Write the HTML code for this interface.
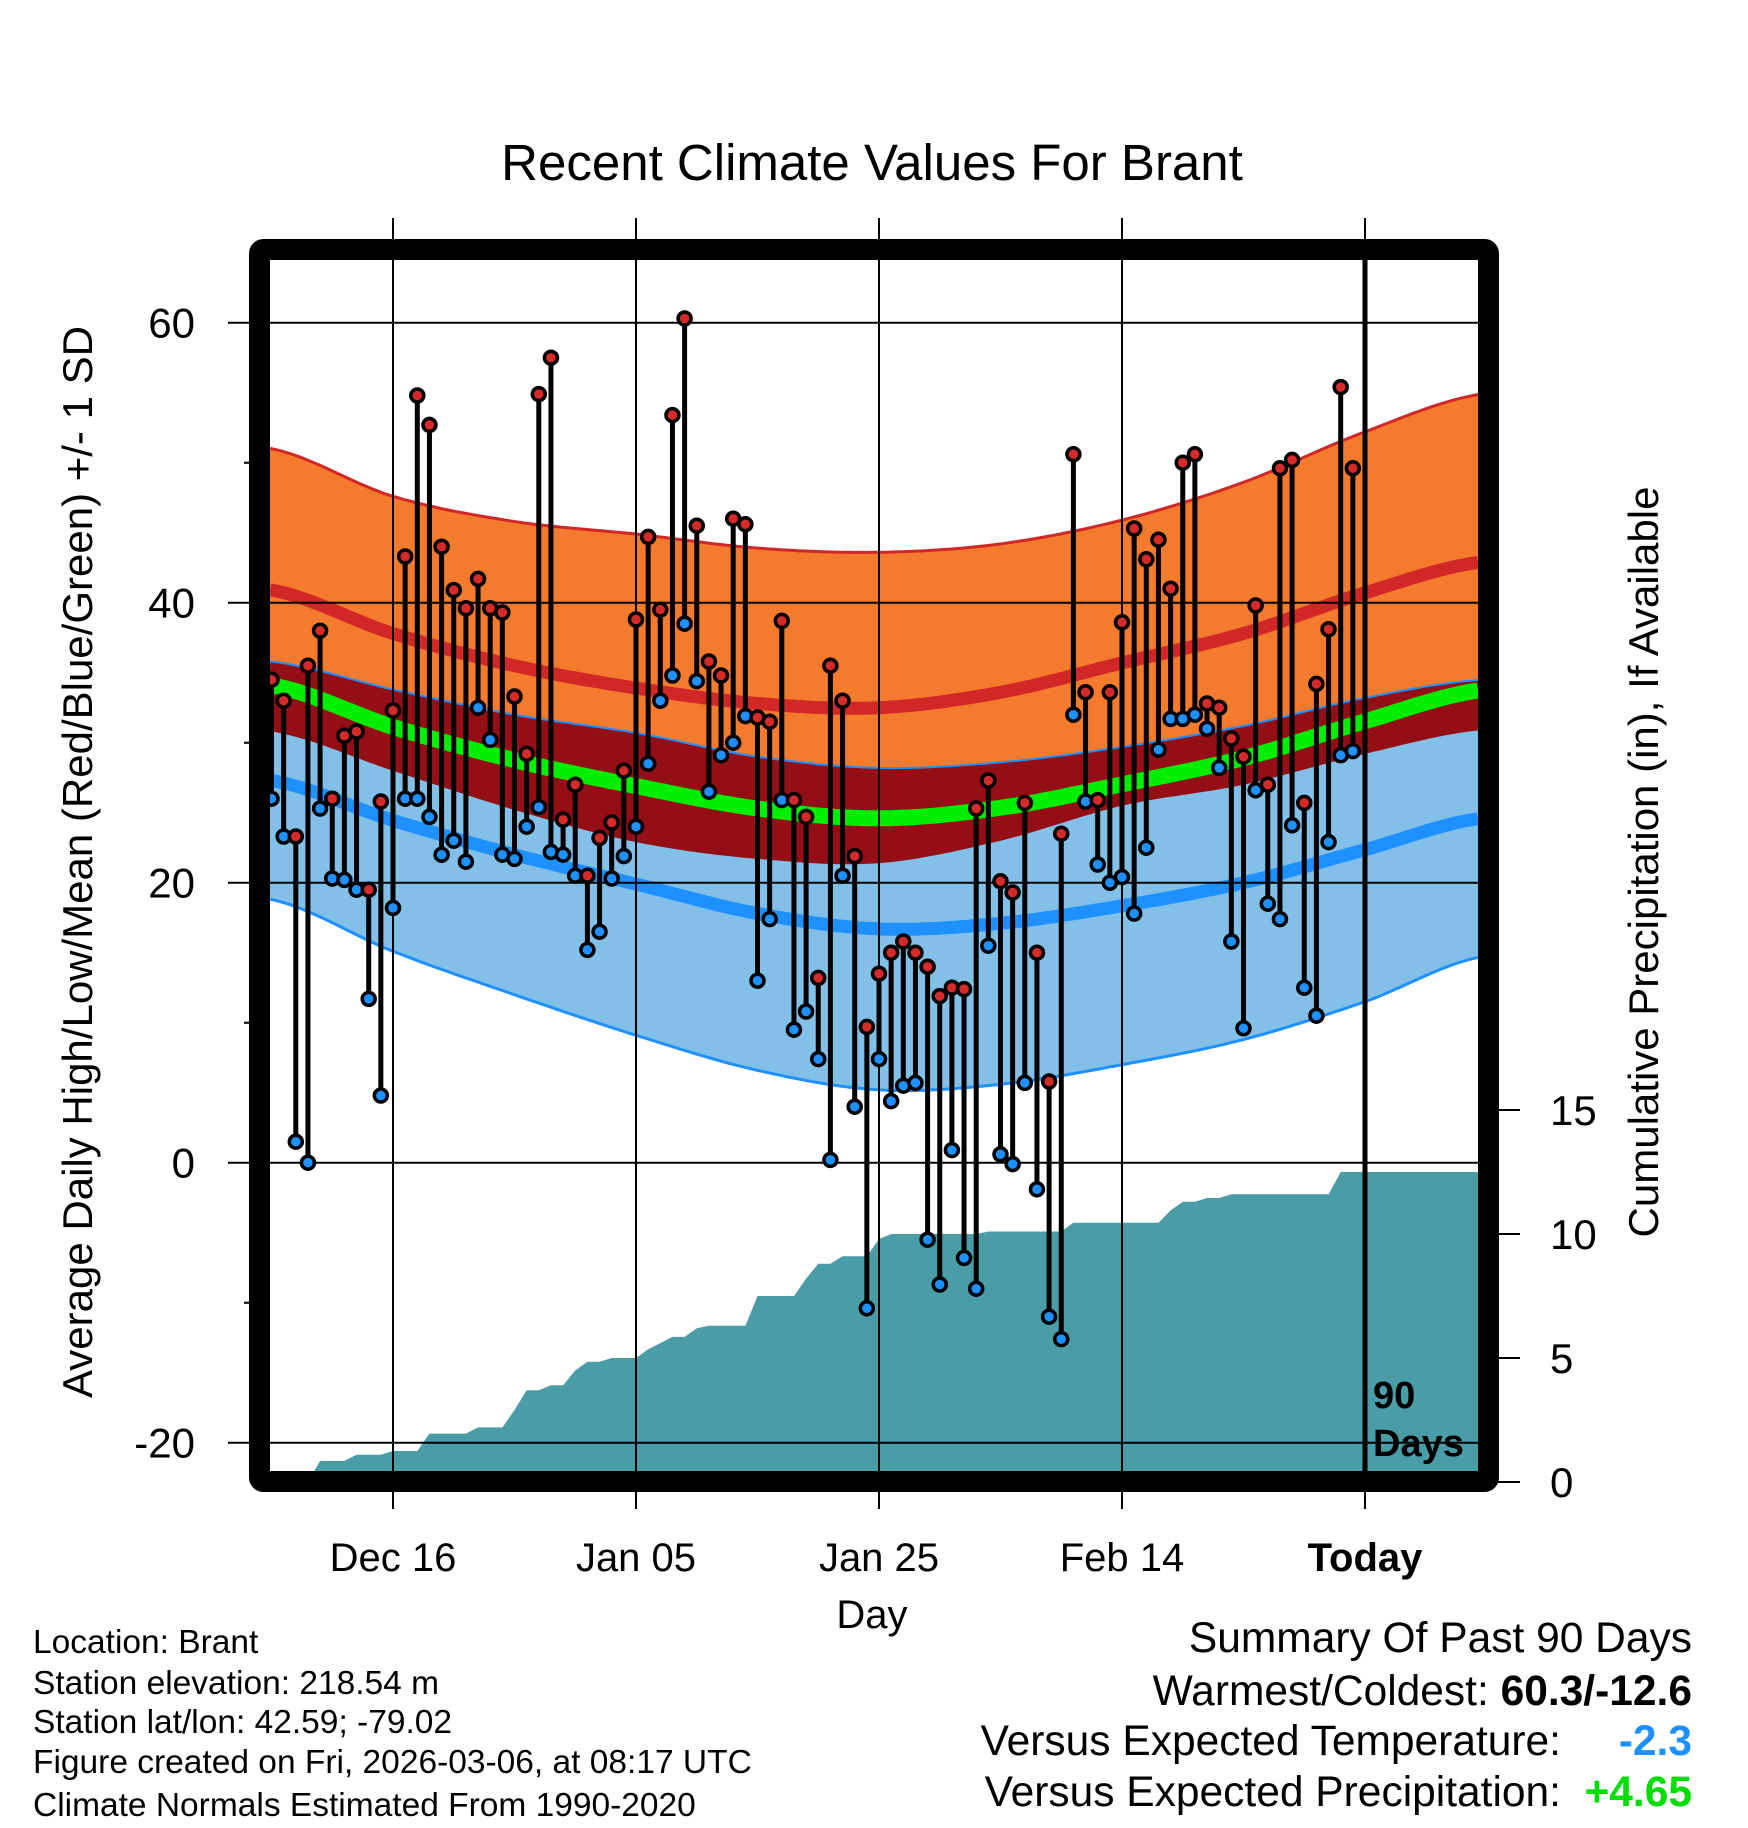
<!DOCTYPE html>
<html><head><meta charset="utf-8"><title>Recent Climate Values For Brant</title>
<style>html,body{margin:0;padding:0;background:#fff}svg{display:block;font-family:"Liberation Sans",Arial,sans-serif}</style>
</head><body>
<svg id="chart" xmlns="http://www.w3.org/2000/svg" width="1748" height="1828" viewBox="0 0 1748 1828">
<rect x="0" y="0" width="1748" height="1828" fill="#fff"/>
<g id="bands"></g>
<g id="precip"></g>
<g id="grid"></g>
<g id="stems"></g>
<g id="frame"></g>
<g id="labels"></g>
<text x="872" y="180" font-size="51" text-anchor="middle">Recent Climate Values For Brant</text>
<text transform="translate(92,862) rotate(-90)" font-size="42" text-anchor="middle">Average Daily High/Low/Mean (Red/Blue/Green) +/- 1 SD</text>
<text transform="translate(1658,862) rotate(-90)" font-size="42" text-anchor="middle">Cumulative Precipitation (in), If Available</text>
<text x="872" y="1628" font-size="40" text-anchor="middle">Day</text>
<text x="1373" y="1408" font-size="38" font-weight="bold">90</text>
<text x="1373" y="1456" font-size="38" font-weight="bold">Days</text>
<g font-size="33.5">
<text x="33" y="1653">Location: Brant</text>
<text x="33" y="1694">Station elevation: 218.54 m</text>
<text x="33" y="1733">Station lat/lon: 42.59; -79.02</text>
<text x="33" y="1773">Figure created on Fri, 2026-03-06, at 08:17 UTC</text>
<text x="33" y="1816">Climate Normals Estimated From 1990-2020</text>
</g>
<g font-size="42.5">
<text x="1692" y="1652" text-anchor="end">Summary Of Past 90 Days</text>
<text x="1692" y="1705" text-anchor="end">Warmest/Coldest: <tspan font-weight="bold">60.3/-12.6</tspan></text>
<text x="1561" y="1755" text-anchor="end">Versus Expected Temperature:</text>
<text x="1692" y="1755" text-anchor="end" font-weight="bold" fill="#1e90ff">-2.3</text>
<text x="1561" y="1806" text-anchor="end">Versus Expected Precipitation:</text>
<text x="1692" y="1806" text-anchor="end" font-weight="bold" fill="#00dd00">+4.65</text>
</g>
</svg>
<script>
// ---- data ----
const highs = [34.5,33,23.3,35.5,38,26,30.5,30.8,19.5,25.8,32.3,43.3,54.8,52.7,44,40.9,39.6,41.7,39.6,39.3,33.3,29.2,54.9,57.5,24.5,27,20.5,23.2,24.3,28,38.8,44.7,39.5,53.4,60.3,45.5,35.8,34.8,46,45.6,31.8,31.5,38.7,25.9,24.7,13.2,35.5,33,21.9,9.7,13.5,15,15.8,15,14,11.9,12.5,12.4,25.3,27.3,20.1,19.3,25.7,15,5.8,23.5,50.6,33.6,25.9,33.6,38.6,45.3,43.1,44.5,41,50,50.6,32.8,32.5,30.3,29,39.8,27,49.6,50.2,25.7,34.2,38.1,55.4,49.6];
const lows = [26,23.3,1.5,0,25.3,20.3,20.2,19.5,11.7,4.8,18.2,26,26,24.7,22,23,21.5,32.5,30.2,22,21.7,24,25.4,22.2,22,20.5,15.2,16.5,20.3,21.9,24,28.5,33,34.8,38.5,34.4,26.5,29.1,30,31.9,13,17.4,25.9,9.5,10.8,7.4,0.2,20.5,4,-10.4,7.4,4.4,5.5,5.7,-5.5,-8.7,0.9,-6.8,-9,15.5,0.6,-0.1,5.7,-1.9,-11,-12.6,32,25.8,21.3,20,20.4,17.8,22.5,29.5,31.7,31.7,32,31,28.2,15.8,9.6,26.6,18.5,17.4,24.1,12.5,10.5,22.9,29.1,29.4];
const precip = [0,0,0,0,0.85,0.85,0.85,1.1,1.1,1.1,1.25,1.25,1.25,1.95,1.95,1.95,1.95,2.2,2.2,2.2,2.9,3.7,3.7,3.9,3.9,4.5,4.85,4.85,5,5,5,5.35,5.6,5.85,5.85,6.2,6.3,6.3,6.3,6.3,7.5,7.5,7.5,7.5,8.2,8.8,8.8,9.1,9.1,9.1,9.8,10,10,10,10,10,10,10,10,10.1,10.1,10.1,10.1,10.1,10.1,10.1,10.45,10.45,10.45,10.45,10.45,10.45,10.45,10.45,10.95,11.3,11.3,11.45,11.45,11.6,11.6,11.6,11.6,11.6,11.6,11.6,11.6,11.6,12.5,12.5];
const normDays = [-10,0,10,20,30,40,50,60,70,80,89.5];
const highMean = [40.9,37.8,35.5,33.9,32.8,32.5,33.6,35.7,37.8,40.7,42.9];
const highSD   = [10.1,9.8,10.3,11,11.1,11.1,10.6,10.2,10.8,11.5,12];
const lowMean  = [27.3,24.45,22,19.9,17.8,16.7,17.1,18.35,20,22.35,24.6];
const lowSD    = [8.5,9.35,10,10.8,11.2,11.5,11.5,11.35,11.2,10.85,9.9];
const yTicks = [-20,0,20,40,60];
const yMinor = [-10,10,30,50];
const pTicks = [0,5,10,15];
const xTickDays = [0,20,40,60,80];
const xTickLabels = ["Dec 16","Jan 05","Jan 25","Feb 14","Today"];

// ---- scales ----
const NS="http://www.w3.org/2000/svg";
const L=270, R=1478, T=260, B=1471;
const xDay = d => 393 + 12.15*d;
const xIdx = i => xDay(i - 10);
const yT = v => 1162.7 - 14*v;
const yP = v => 1482 - 24.8*v;
function mk(tag, attrs, parent){const e=document.createElementNS(NS,tag);for(const k in attrs)e.setAttribute(k,attrs[k]);parent.appendChild(e);return e;}
function interp(arr, d){
  const n=normDays.length;let k=0;
  while(k<n-2 && d>normDays[k+1])k++;
  const t=(d-normDays[k])/(normDays[k+1]-normDays[k]);
  const p0=arr[Math.max(k-1,0)],p1=arr[k],p2=arr[k+1],p3=arr[Math.min(k+2,n-1)];
  const t2=t*t,t3=t2*t;
  return 0.5*((2*p1)+(-p0+p2)*t+(2*p0-5*p1+4*p2-p3)*t2+(-p0+3*p1-3*p2+p3)*t3);
}
const dStart=(L-393)/12.15, dEnd=(R-393)/12.15;
const ds=[];for(let d=dStart; d<=dEnd+0.001; d+=0.5)ds.push(d);ds.push(dEnd);
const fHM=d=>interp(highMean,d), fHS=d=>interp(highSD,d), fLM=d=>interp(lowMean,d), fLS=d=>interp(lowSD,d);
function line(f){return ds.map((d,i)=>(i?'L':'M')+xDay(d).toFixed(1)+','+yT(f(d)).toFixed(1)).join('');}
function area(fTop,fBot){
  let s=ds.map((d,i)=>(i?'L':'M')+xDay(d).toFixed(1)+','+yT(fTop(d)).toFixed(1)).join('');
  s+=ds.slice().reverse().map(d=>'L'+xDay(d).toFixed(1)+','+yT(fBot(d)).toFixed(1)).join('');
  return s+'Z';
}
const bands=document.getElementById('bands');
let e;
e=mk('path',{d:area(d=>fHM(d)+fHS(d),d=>fHM(d)-fHS(d)),fill:'#f47b2e'},bands);


e=mk('path',{d:area(d=>fLM(d)+fLS(d),d=>fLM(d)-fLS(d)),fill:'#82c0e8'},bands);


e=mk('path',{d:area(d=>Math.min(fLM(d)+fLS(d),fHM(d)+fHS(d)),d=>Math.max(fHM(d)-fHS(d),fLM(d)-fLS(d))),fill:'#930e15'},bands);


e=mk('path',{d:line(d=>fHM(d)+fHS(d)),fill:'none',stroke:'#d22727','stroke-width':3},bands);


e=mk('path',{d:line(d=>fLM(d)+fLS(d)),fill:'none',stroke:'#1e90ff','stroke-width':2},bands);


e=mk('path',{d:line(d=>fLM(d)-fLS(d)),fill:'none',stroke:'#1e90ff','stroke-width':3},bands);


e=mk('path',{d:line(fHM),fill:'none',stroke:'#d22727','stroke-width':13},bands);


e=mk('path',{d:line(fLM),fill:'none',stroke:'#1e90ff','stroke-width':13},bands);


e=mk('path',{d:line(d=>(fHM(d)+fLM(d))/2),fill:'none',stroke:'#00ee00','stroke-width':16},bands);



// precipitation area (linear between daily cumulative values)
const pg=document.getElementById('precip');
let ps='M'+L+','+yP(0)+'L'+L+','+yP(precip[0]).toFixed(1);
precip.forEach((v,i)=>{ps+='L'+xIdx(i).toFixed(1)+','+yP(v).toFixed(1);});
ps+='L'+R+','+yP(precip[precip.length-1]).toFixed(1)+'L'+R+','+yP(0)+'Z';
e=mk('path',{d:ps,fill:'#4a9ca6'},pg);



// grid & ticks
const g=document.getElementById('grid');
yTicks.forEach(v=>{e=mk('line',{x1:228,x2:R,y1:yT(v),y2:yT(v),stroke:'#000','stroke-width':2},g);

});
yMinor.forEach(v=>{e=mk('line',{x1:244,x2:L,y1:yT(v),y2:yT(v),stroke:'#000','stroke-width':2},g);

});
xTickDays.forEach((d,i)=>{e=mk('line',{x1:xDay(d),x2:xDay(d),y1:218,y2:1509,stroke:'#000','stroke-width':2},g);

});
e=mk('line',{x1:xDay(80),x2:xDay(80),y1:T,y2:B,stroke:'#000','stroke-width':5},g);


pTicks.forEach(v=>{e=mk('line',{x1:1490,x2:1520,y1:yP(v),y2:yP(v),stroke:'#000','stroke-width':2},g);

});

// stems
const sg=document.getElementById('stems');
highs.forEach((h,i)=>{const x=xIdx(i);
 e=mk('line',{x1:x,x2:x,y1:yT(h),y2:yT(lows[i]),stroke:'#000','stroke-width':5},sg);
 
 });
highs.forEach((h,i)=>{const x=xIdx(i);
 e=mk('circle',{cx:x,cy:yT(lows[i]),r:6.5,fill:'#1e90ff',stroke:'#000','stroke-width':3.5},sg);
 
 
 e=mk('circle',{cx:x,cy:yT(h),r:6.5,fill:'#d42a2a',stroke:'#000','stroke-width':3.5},sg);
 
 });

// frame
const fr=document.getElementById('frame');
e=mk('rect',{x:259.5,y:249.5,width:1229,height:1232,fill:'none',stroke:'#000','stroke-width':21,rx:4},fr);



// labels
const lg=document.getElementById('labels');
yTicks.forEach(v=>{e=mk('text',{x:195,y:yT(v)+15,'font-size':42,'text-anchor':'end'},lg);e.textContent=v;

});
pTicks.forEach(v=>{e=mk('text',{x:1550,y:yP(v)+15,'font-size':42},lg);e.textContent=v;

});
xTickDays.forEach((d,i)=>{e=mk('text',{x:xDay(d),y:1571,'font-size':40,'text-anchor':'middle','font-weight':i==4?'bold':'normal'},lg);e.textContent=xTickLabels[i];

});
</script>
</body></html>
